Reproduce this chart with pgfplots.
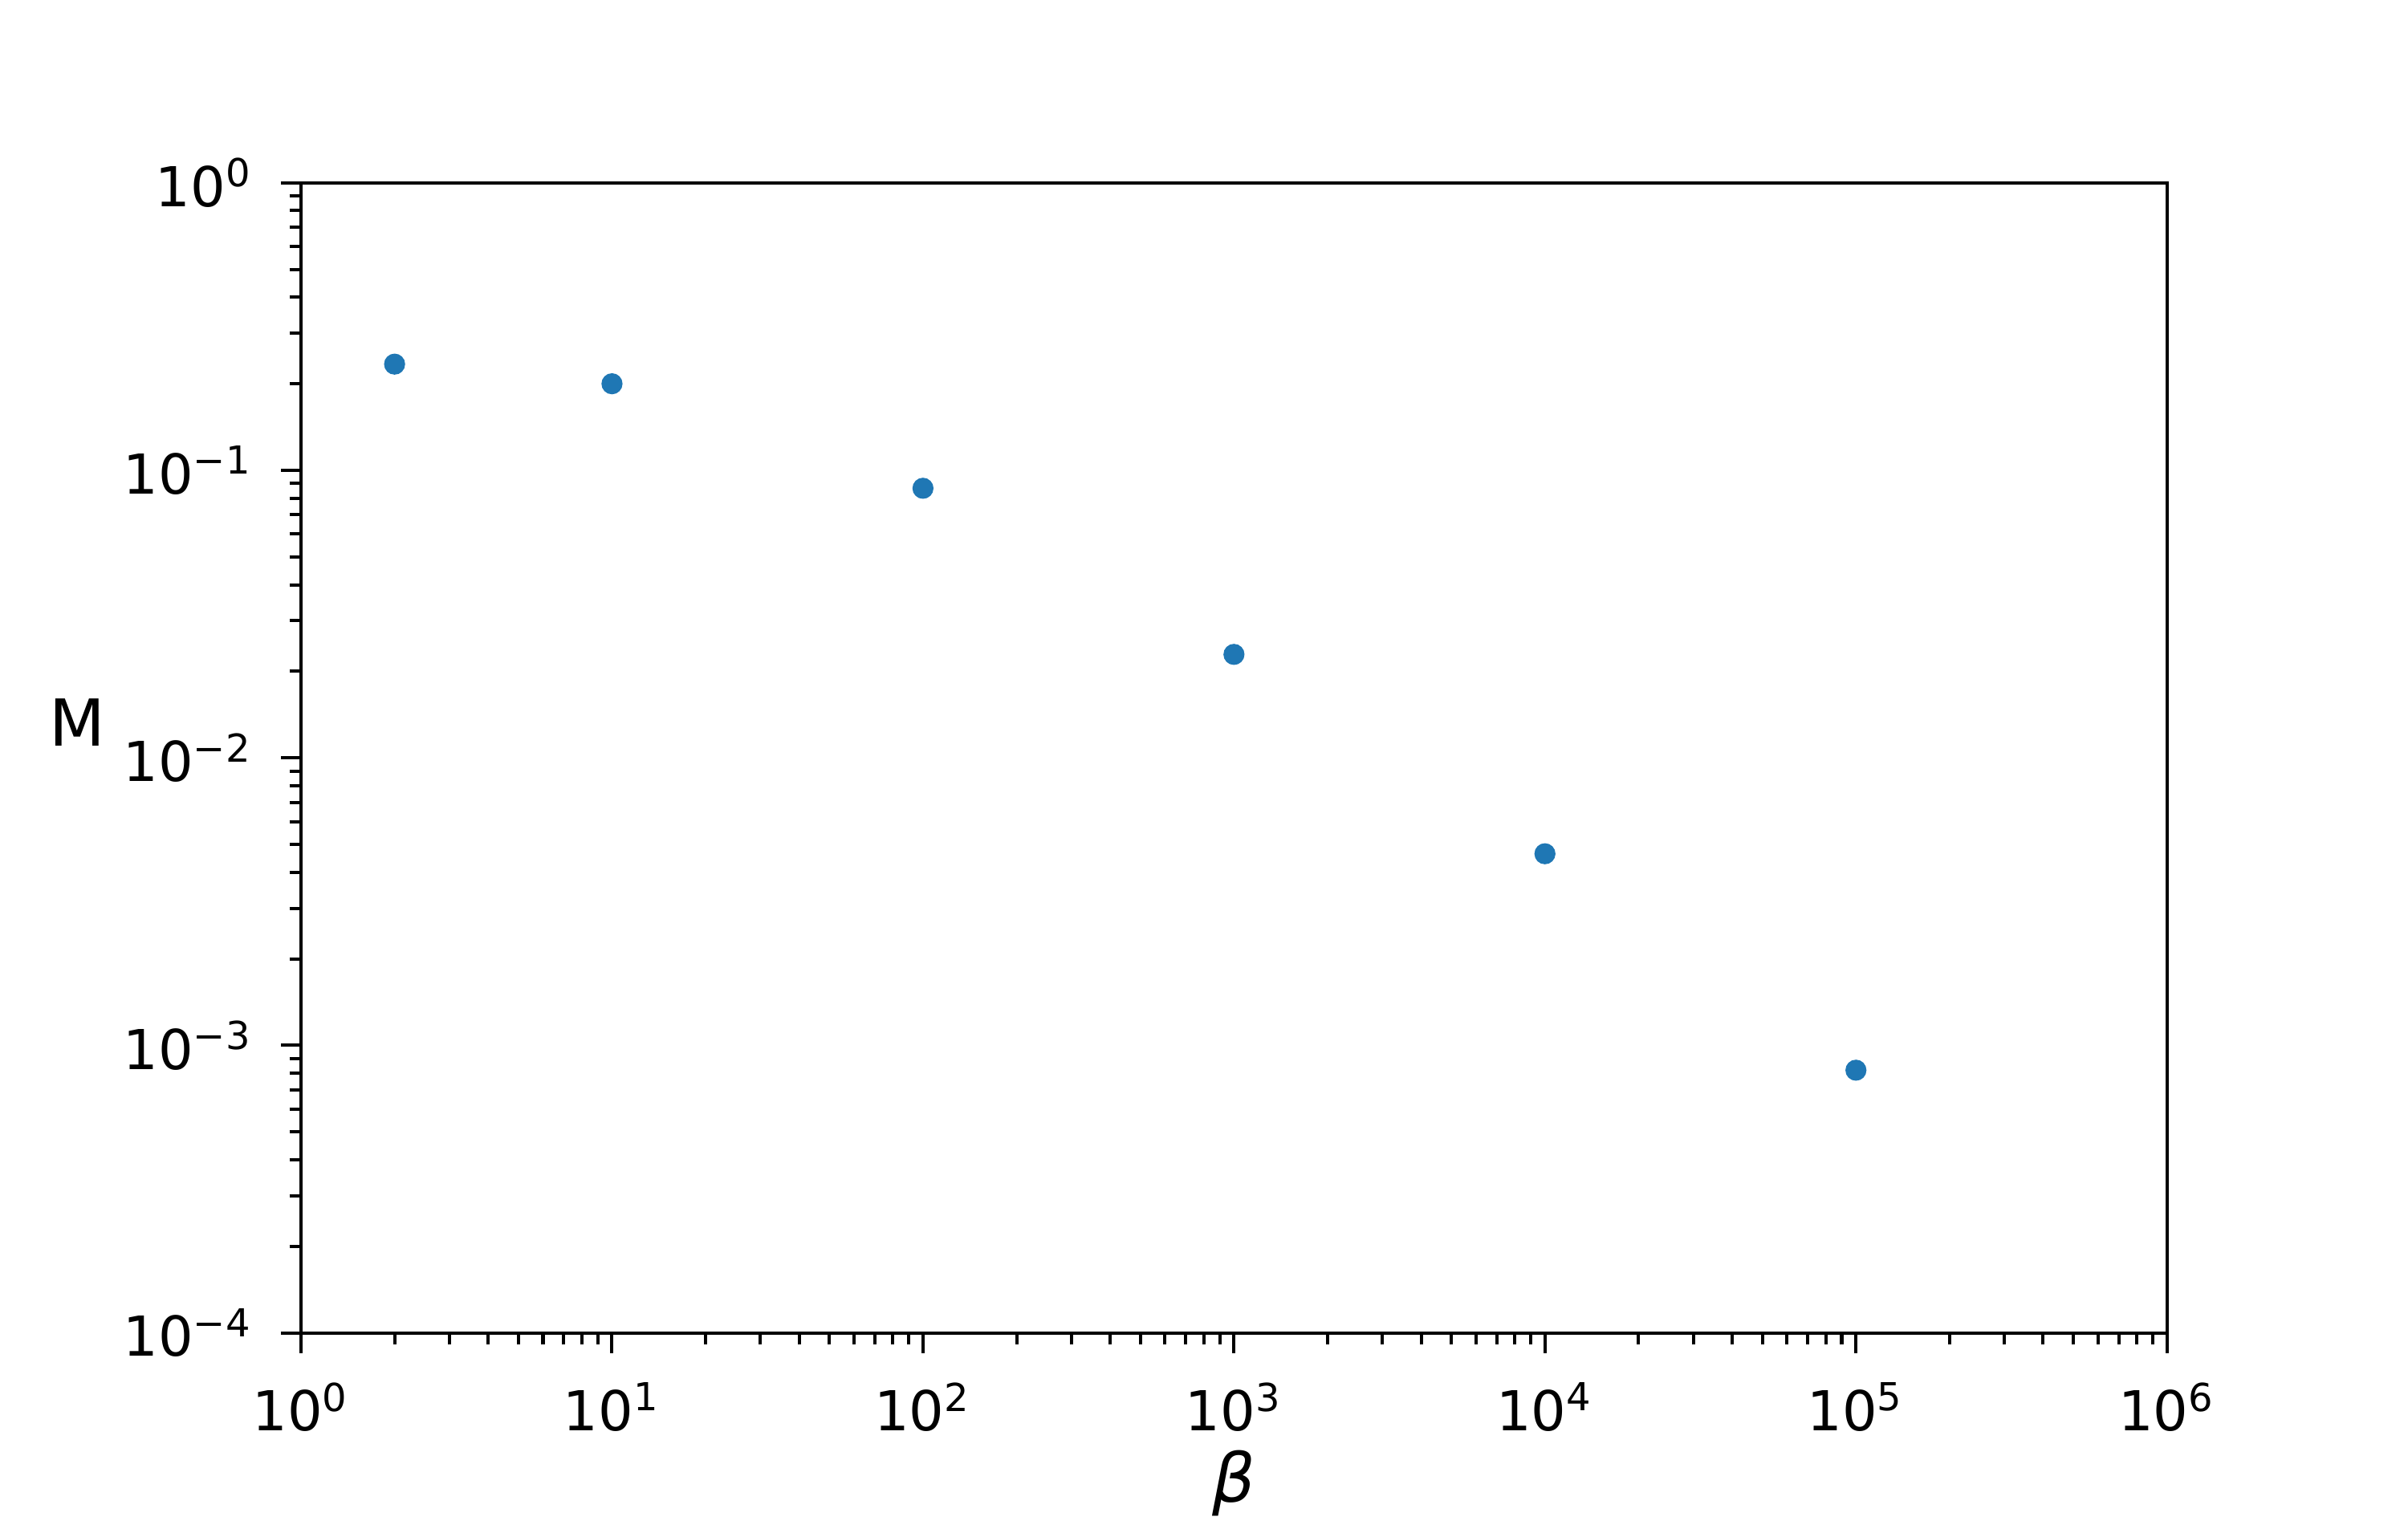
\documentclass[border=0pt]{standalone}
\usepackage{pgfplots}
\pgfplotsset{compat=1.18}
\usepackage{fontspec}
\setmainfont{DejaVu Sans}
\definecolor{mplblue}{HTML}{1F77B4}
\newcommand{\pw}[1]{10\textsuperscript{#1}}
\begin{document}
\fontsize{10}{12}\selectfont
\begin{tikzpicture}
\path[use as bounding box] (-1.96cm,-1.25cm) rectangle (13.72cm,8.68cm);
\begin{axis}[
  at={(0,0)}, anchor=south west,
  scale only axis, width=12.15cm, height=7.49cm,
  xmode=log, ymode=log,
  xmin=1, xmax=1e6, ymin=1e-4, ymax=1,
  xtick={1,10,100,1000,10000,100000,1000000},
  xticklabels={\pw{0},\pw{1},\pw{2},\pw{3},\pw{4},\pw{5},\pw{6}},
  ytick={1e-4,1e-3,1e-2,1e-1,1},
  yticklabels={\pw{−4},\pw{−3},\pw{−2},\pw{−1},\pw{0}},
  tick align=outside, tick pos=left,
  major tick length=1.3mm, minor tick length=0.75mm,
  every tick/.style={black, line width=0.6pt},
  axis line style={line width=0.6pt},
  ticklabel style={font=\fontsize{10.2}{12}\selectfont},
  xticklabel style={yshift=-0.7mm},
  yticklabel style={xshift=-0.6mm},
  xlabel={\textit{β}},
  ylabel={M},
  xlabel style={at={(rel axis cs:0.5,0)}, anchor=center, yshift=-0.98cm, font=\fontsize{12.5}{14}\selectfont},
  ylabel style={at={(rel axis cs:-0.12,0.531)}, anchor=center, rotate=-90, font=\fontsize{12}{14}\selectfont},
]
\addplot[only marks, mark=*, mark size=1.75pt, color=mplblue] coordinates {
  (2,0.234) (10,0.200) (100,0.0866) (1000,0.0229) (10000,0.00464) (100000,0.00082)
};
\end{axis}
\end{tikzpicture}
\end{document}
